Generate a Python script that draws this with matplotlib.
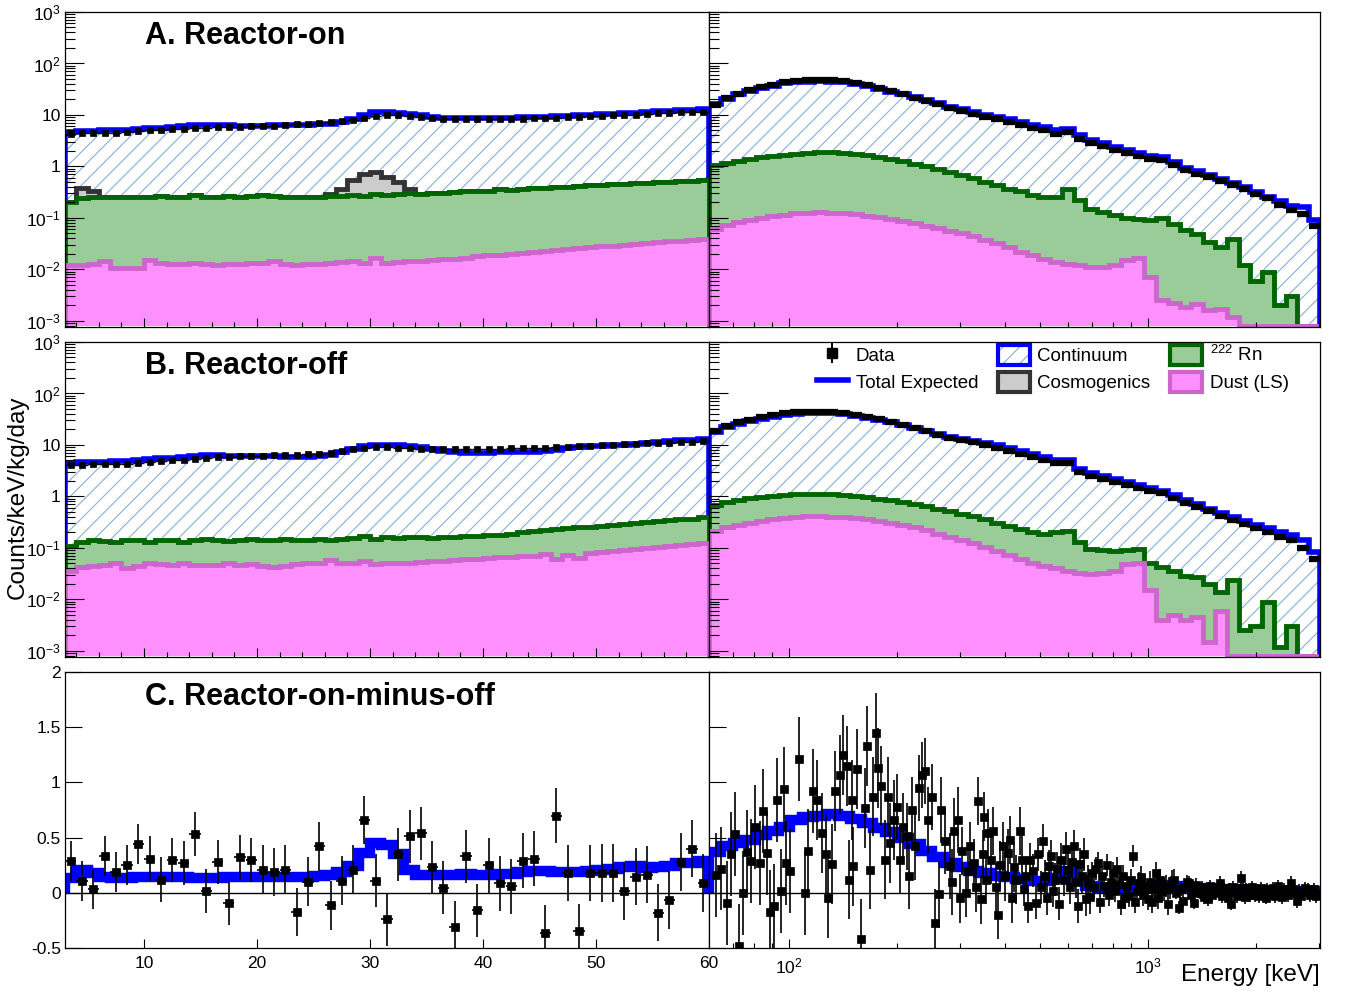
import numpy as np
import matplotlib
matplotlib.use("Agg")
import matplotlib.pyplot as plt
from matplotlib.lines import Line2D
from matplotlib.patches import Patch
from matplotlib.legend_handler import HandlerTuple
from matplotlib.ticker import FixedLocator, FuncFormatter, NullFormatter, LogLocator

plt.rcParams.update({
    "font.family": ["Liberation Sans", "DejaVu Sans"],
    "mathtext.fontset": "custom",
    "mathtext.rm": "Liberation Sans",
    "mathtext.it": "Liberation Sans:italic",
    "mathtext.bf": "Liberation Sans:bold",
    "hatch.linewidth": 0.8,
    "axes.linewidth": 0.9,
})

# ---------------------------------------------------------------- binning
LOW_EDGES = np.arange(3, 61)          # 1 keV bins, 3-60 keV
HIGH_EDGES = np.array([60, 65, 70, 75, 81, 87, 94, 101, 109, 118, 127, 137, 148, 160,
                       172, 186, 200, 216, 233, 251, 271, 292, 315, 340, 367, 396, 427,
                       460, 496, 535, 577, 622, 671, 724, 781, 842, 908, 979, 1056, 1139,
                       1228, 1324, 1428, 1540, 1661, 1791, 1931, 2083, 2246, 2422, 2612,
                       2817, 3020])

# ---------------------------------------------------------------- reactor-on, 3-60 keV
total_on_lo = [4.7, 4.8, 4.9, 5.0, 5.0, 5.1, 5.3, 5.5, 5.6, 5.8,
               6.2, 6.4, 6.5, 6.4, 6.3, 6.2, 6.2, 6.2, 6.3, 6.3,
               6.4, 6.5, 6.6, 6.8, 7.4, 8.4, 10.0, 11.2, 11.3, 11.0,
               10.6, 10.0, 9.2, 8.7, 8.6, 8.6, 8.7, 8.8, 8.8, 8.9,
               9.0, 9.2, 9.3, 9.5, 9.6, 9.8, 10.0, 10.3, 10.5, 10.8,
               11.0, 11.4, 11.7, 12.0, 12.3, 12.6, 12.8]
data_on_lo = [4.3, 4.4, 4.4, 4.5, 4.5, 4.6, 4.8, 5.0, 5.1, 5.3,
              5.4, 5.6, 5.7, 5.8, 5.8, 5.9, 6.0, 6.1, 6.2, 6.4,
              6.6, 6.8, 7.1, 7.4, 7.6, 8.0, 8.8, 9.6, 9.9, 9.8,
              9.4, 9.0, 8.6, 8.3, 8.2, 8.2, 8.2, 8.3, 8.3, 8.4,
              8.5, 8.6, 8.7, 8.9, 9.0, 9.2, 9.4, 9.6, 9.8, 10.0,
              10.2, 10.5, 10.8, 11.0, 11.2, 11.4, 11.5]
cosmo_on_lo = [0, 0.14, 0.08, 0, 0, 0, 0, 0, 0, 0,
               0, 0, 0, 0, 0, 0, 0, 0, 0, 0,
               0, 0, 0, 0.02, 0.09, 0.27, 0.45, 0.49, 0.33, 0.20,
               0.07, 0, 0, 0, 0, 0, 0, 0, 0, 0,
               0, 0, 0, 0, 0, 0, 0, 0, 0, 0,
               0, 0, 0, 0, 0, 0, 0]
rn_on_lo = [0.188, 0.228, 0.238, 0.246, 0.24, 0.25, 0.25, 0.235, 0.257, 0.247,
            0.248, 0.267, 0.238, 0.248, 0.258, 0.247, 0.257, 0.267, 0.256, 0.247,
            0.248, 0.238, 0.247, 0.257, 0.256, 0.266, 0.257, 0.274, 0.267, 0.276,
            0.286, 0.276, 0.285, 0.294, 0.304, 0.313, 0.312, 0.321, 0.341, 0.33,
            0.349, 0.358, 0.357, 0.376, 0.375, 0.384, 0.403, 0.412, 0.421, 0.43,
            0.439, 0.448, 0.466, 0.465, 0.474, 0.493, 0.511]
dust_on_lo = [0.012, 0.012, 0.0125, 0.0145, 0.0105, 0.0105, 0.0105, 0.0155, 0.0135, 0.013,
              0.0125, 0.0135, 0.0125, 0.012, 0.0125, 0.013, 0.0135, 0.0135, 0.0145, 0.013,
              0.012, 0.0125, 0.013, 0.0135, 0.014, 0.0145, 0.0135, 0.0165, 0.0135, 0.014,
              0.0145, 0.0145, 0.0155, 0.016, 0.016, 0.017, 0.018, 0.019, 0.019, 0.02,
              0.021, 0.022, 0.023, 0.024, 0.025, 0.026, 0.027, 0.028, 0.029, 0.03,
              0.031, 0.032, 0.034, 0.035, 0.036, 0.037, 0.039]

# ---------------------------------------------------------------- reactor-on, 60-3000 keV
total_on_hi = [16, 20, 25, 29, 33, 37, 41, 43, 44.5, 45,
               44.5, 43, 40, 36, 32, 28.5, 25, 22, 19.5, 17,
               14.5, 12.8, 11.3, 10.2, 9.2, 8.2, 7.3, 6.5, 5.8, 5.0,
               5.4, 4.0, 3.3, 2.8, 2.4, 2.1, 1.8, 1.6, 1.5, 1.2,
               0.95, 0.8, 0.68, 0.57, 0.48, 0.39, 0.32, 0.26, 0.21, 0.17,
               0.16, 0.09]
data_on_hi = [15.5, 21, 26, 30.5, 35, 39, 43, 46, 47, 47.5,
              47, 45, 42, 37.5, 33, 29, 25, 21.5, 18.7, 16,
              13.6, 11.8, 10.3, 9.2, 8.2, 7.2, 6.4, 5.7, 5.0, 4.3,
              4.7, 3.4, 2.9, 2.5, 2.1, 1.85, 1.6, 1.4, 1.35, 1.08,
              0.86, 0.72, 0.62, 0.52, 0.44, 0.36, 0.29, 0.24, 0.18, 0.14,
              0.12, 0.07]
rn_on_hi = [0.99, 1.08, 1.17, 1.29, 1.40, 1.49, 1.58, 1.66, 1.72, 1.75,
            1.74, 1.71, 1.63, 1.54, 1.42, 1.31, 1.18, 1.05, 0.93, 0.82,
            0.71, 0.62, 0.54, 0.46, 0.40, 0.34, 0.31, 0.26, 0.234, 0.246,
            0.347, 0.208, 0.139, 0.119, 0.103, 0.085, 0.077, 0.083, 0.0975, 0.073,
            0.056, 0.046, 0.032, 0.026, 0.037, 0.012, 0.006, 0.009, 0.002, 0.003,
            0, 0]
dust_on_hi = [0.062, 0.072, 0.082, 0.092, 0.10, 0.108, 0.115, 0.122, 0.126, 0.128,
              0.127, 0.124, 0.118, 0.11, 0.102, 0.095, 0.087, 0.079, 0.071, 0.063,
              0.056, 0.05, 0.044, 0.038, 0.032, 0.027, 0.022, 0.019, 0.016, 0.014,
              0.013, 0.012, 0.011, 0.011, 0.012, 0.015, 0.017, 0.007, 0.0025, 0.0022,
              0.0019, 0.0021, 0.0016, 0.0017, 0.0012, 0, 0, 0, 0, 0,
              0, 0]

# ---------------------------------------------------------------- reactor-off, 3-60 keV
total_off_lo = [4.5, 4.6, 4.6, 4.7, 4.8, 4.9, 5.1, 5.3, 5.5, 5.7,
                5.9, 6.1, 6.3, 6.3, 6.2, 6.2, 6.1, 6.0, 6.0, 5.9,
                5.9, 5.9, 6.0, 6.5, 7.2, 8.3, 9.6, 10.2, 10.2, 10.0,
                9.6, 9.0, 8.2, 7.5, 7.2, 7.1, 7.1, 7.1, 7.2, 7.2,
                7.3, 7.4, 7.6, 8.0, 8.6, 9.2, 9.5, 9.7, 9.9, 10.1,
                10.4, 10.8, 11.4, 12.0, 12.3, 12.5, 12.8]
data_off_lo = [4.1, 4.1, 4.2, 4.2, 4.3, 4.3, 4.4, 4.6, 4.8, 5.0,
               5.2, 5.4, 5.6, 5.8, 5.9, 6.0, 6.1, 6.2, 6.3, 6.4,
               6.5, 6.6, 6.8, 7.1, 7.6, 8.2, 8.7, 9.0, 9.0, 8.9,
               8.7, 8.5, 8.4, 8.3, 8.3, 8.3, 8.4, 8.4, 8.5, 8.6,
               8.7, 8.8, 8.9, 9.1, 9.3, 9.5, 9.7, 9.9, 10.1, 10.3,
               10.5, 10.7, 10.9, 11.1, 11.3, 11.5, 11.7]
rn_off_lo = [0.073, 0.088, 0.095, 0.088, 0.078, 0.10, 0.10, 0.08, 0.092, 0.099,
             0.08, 0.094, 0.104, 0.093, 0.085, 0.098, 0.101, 0.095, 0.103, 0.105,
             0.097, 0.09, 0.098, 0.087, 0.098, 0.105, 0.115, 0.102, 0.11, 0.103,
             0.11, 0.107, 0.10, 0.105, 0.107, 0.11, 0.108, 0.116, 0.114, 0.122,
             0.129, 0.14, 0.145, 0.168, 0.168, 0.185, 0.182, 0.187, 0.192, 0.198,
             0.205, 0.22, 0.225, 0.24, 0.245, 0.25, 0.275]
dust_off_lo = [0.035, 0.042, 0.045, 0.047, 0.052, 0.040, 0.045, 0.050, 0.048, 0.046,
               0.050, 0.046, 0.046, 0.047, 0.050, 0.047, 0.049, 0.045, 0.042, 0.045,
               0.048, 0.050, 0.052, 0.058, 0.052, 0.050, 0.055, 0.048, 0.050, 0.052,
               0.050, 0.053, 0.055, 0.055, 0.058, 0.060, 0.062, 0.064, 0.066, 0.068,
               0.071, 0.070, 0.075, 0.062, 0.072, 0.065, 0.078, 0.083, 0.088, 0.092,
               0.095, 0.10, 0.105, 0.11, 0.115, 0.12, 0.125]

# ---------------------------------------------------------------- reactor-off, 60-3000 keV
total_off_hi = [18, 22, 26, 29.5, 32.5, 35.5, 38, 40, 41, 41.5,
                41, 39.5, 37, 34, 31, 27.5, 24.5, 21.5, 19, 16.5,
                14.5, 13.2, 12.2, 11, 9.8, 8.7, 7.6, 6.6, 5.8, 5.2,
                5.0, 3.4, 2.9, 2.5, 2.2, 1.9, 1.65, 1.45, 1.3, 1.05,
                0.85, 0.7, 0.58, 0.48, 0.40, 0.34, 0.28, 0.24, 0.2, 0.18,
                0.14, 0.085]
data_off_hi = [19, 23, 27.5, 31, 34.5, 38, 41, 43, 44, 44.5,
               44, 42, 39, 35.5, 32, 28, 24.5, 21, 18.3, 15.8,
               13.7, 12.3, 11.2, 10, 8.9, 7.8, 6.8, 5.9, 5.1, 4.5,
               4.4, 3.0, 2.55, 2.2, 1.9, 1.65, 1.45, 1.27, 1.15, 0.92,
               0.75, 0.62, 0.51, 0.42, 0.35, 0.29, 0.24, 0.2, 0.16, 0.14,
               0.1, 0.06]
rn_off_hi = [0.47, 0.53, 0.58, 0.62, 0.65, 0.68, 0.70, 0.70, 0.70, 0.70,
             0.695, 0.675, 0.64, 0.60, 0.565, 0.53, 0.50, 0.46, 0.42, 0.38,
             0.345, 0.315, 0.285, 0.255, 0.222, 0.197, 0.168, 0.148, 0.145, 0.16,
             0.175, 0.098, 0.064, 0.058, 0.052, 0.044, 0.045, 0.035, 0.038, 0.03,
             0.024, 0.0225, 0.0185, 0.008, 0.024, 0.0025, 0.003, 0.0088, 0.0012, 0.003,
             0, 0]
dust_off_hi = [0.21, 0.25, 0.28, 0.31, 0.34, 0.36, 0.38, 0.40, 0.41, 0.41,
               0.405, 0.395, 0.38, 0.36, 0.335, 0.31, 0.28, 0.25, 0.22, 0.19,
               0.165, 0.145, 0.125, 0.105, 0.088, 0.073, 0.062, 0.052, 0.045, 0.04,
               0.035, 0.032, 0.031, 0.032, 0.036, 0.048, 0.05, 0.015, 0.004, 0.005,
               0.004, 0.0045, 0.0015, 0.006, 0, 0, 0, 0, 0, 0,
               0, 0]

# ---------------------------------------------------------------- on-minus-off residual
diff_lo = [0.29, 0.11, 0.03, 0.33, 0.19, 0.25, 0.44, 0.31, 0.12, 0.30,
           0.27, 0.53, 0.015, 0.28, -0.09, 0.32, 0.30, 0.21, 0.19, 0.21,
           -0.175, 0.10, 0.42, -0.115, 0.11, 0.21, 0.66, 0.11, -0.24, 0.35,
           0.51, 0.54, 0.23, 0.045, -0.31, 0.33, -0.16, 0.25, 0.085, 0.06,
           0.29, 0.31, -0.36, 0.70, 0.18, -0.35, 0.18, 0.18, 0.18, 0.015,
           0.145, 0.165, -0.18, -0.065, 0.28, 0.40, 0.09]
diff_lo_err = ([0.18] * 7 + [0.20] * 10 + [0.22] * 10 + [0.24] * 10
               + [0.25] * 10 + [0.26] * 10)
expect_diff_lo = [0.13, 0.21, 0.18, 0.14, 0.13, 0.13, 0.14, 0.14, 0.14, 0.14,
                  0.14, 0.135, 0.135, 0.135, 0.14, 0.145, 0.145, 0.145, 0.145, 0.145,
                  0.145, 0.145, 0.15, 0.165, 0.19, 0.24, 0.36, 0.45, 0.43, 0.35,
                  0.21, 0.165, 0.16, 0.16, 0.165, 0.17, 0.165, 0.165, 0.17, 0.17,
                  0.19, 0.195, 0.2, 0.185, 0.185, 0.19, 0.2, 0.21, 0.22, 0.235,
                  0.24, 0.225, 0.23, 0.24, 0.27, 0.27, 0.29]
expect_diff_hi = [0.37, 0.42, 0.45, 0.48, 0.52, 0.56, 0.60, 0.66, 0.69, 0.70,
                  0.71, 0.70, 0.67, 0.63, 0.59, 0.55, 0.50, 0.44, 0.38, 0.32,
                  0.27, 0.23, 0.20, 0.175, 0.155, 0.14, 0.125, 0.11, 0.105, 0.13,
                  0.20, 0.12, 0.06, 0.045, 0.035, 0.03, 0.03, 0.045, 0.075, 0.065,
                  0.05, 0.045, 0.04, 0.035, 0.03, 0.03, 0.025, 0.02, 0.02, 0.02,
                  0.015, 0.015]
diff_hi_energy = [62.8, 64.6, 67.2, 69.0, 70.8, 72.6, 74.5, 76.6, 78.7, 80.8,
                  83, 85, 87, 88.6, 91, 93, 95, 97, 98.6, 100.8,
                  107, 111, 113, 117, 120, 124, 127, 129, 132, 135,
                  139, 142, 145, 147.5, 150, 151.5, 155, 159, 163, 165,
                  168, 172, 175, 177, 181, 185, 189, 192, 196, 200,
                  204, 208, 213, 217, 221, 225, 230, 235, 239, 245,
                  250, 256, 262, 266, 273, 281, 285, 288, 296, 300,
                  304, 312, 316, 319, 328, 332, 336, 343, 347, 350,
                  355, 360, 366, 372, 377, 382, 389, 396, 401, 407,
                  413, 418, 424, 430, 441, 447, 453, 459, 465, 470,
                  478, 490, 496, 503, 510, 517, 524, 531, 538, 545,
                  553, 560, 568, 575, 583, 592, 600, 608, 616, 624,
                  632, 640, 647, 655, 664, 673, 682, 691, 700, 710,
                  719, 728, 738, 748, 758, 768, 779, 790, 800, 812,
                  822, 833, 843, 855, 866, 877, 888, 900, 910, 922,
                  934, 946, 958, 970, 983, 1000, 1013, 1027, 1041, 1055,
                  1069, 1083, 1097, 1110, 1125, 1140, 1155, 1170, 1185, 1200,
                  1220, 1236, 1252, 1268, 1284, 1300, 1317, 1333, 1350, 1367,
                  1384, 1400, 1418, 1436, 1454, 1470, 1490, 1508, 1527, 1545,
                  1565, 1590, 1610, 1630, 1650, 1670, 1690, 1710, 1732, 1754,
                  1776, 1798, 1815, 1838, 1861, 1884, 1907, 1930, 1953, 1970,
                  1996, 2020, 2046, 2071, 2097, 2130, 2155, 2180, 2210, 2240,
                  2270, 2310, 2340, 2370, 2400, 2430, 2460, 2510, 2540, 2570,
                  2610, 2640, 2680, 2720, 2750, 2790, 2830, 2870, 2910, 2950,
                  2990]
diff_hi = [0.16, 0.22, -0.09, 0.35, 0.53, -0.48, 0.0, 0.37, 0.29, 0.60,
           0.27, 0.74, 0.36, -0.17, -0.12, 0.84, 0.02, 0.94, 0.27, 0.20,
           1.21, 0.0, 0.38, 0.92, 0.84, 0.54, 0.35, -0.05, 0.26, 0.92,
           1.07, 1.25, 1.15, 0.12, 0.84, 0.24, 1.12, -0.42, 0.77, 1.33,
           0.21, 0.87, 1.45, 1.13, 0.97, 0.30, 0.87, 0.45, 0.66, 0.78,
           0.30, 0.60, 0.51, 0.15, 0.75, 0.42, 0.95, 1.07, 1.10, 0.66,
           0.87, -0.27, -0.015, 0.75, 0.47, 0.24, 0.10, 0.56, 0.66, -0.05,
           0.38, 0.0, 0.20, 0.42, 0.27, 0.05, 0.83, -0.06, 0.35, 0.69,
           0.12, 0.54, 0.30, 0.56, 0.05, -0.20, 0.25, 0.42, 0.15, 0.36,
           0.48, -0.05, 0.23, 0.12, 0.56, 0.30, 0.03, 0.15, -0.12, 0.30,
           0.20, -0.09, 0.35, 0.05, 0.47, 0.15, -0.05, 0.24, 0.33, 0.02,
           0.12, 0.22, -0.10, 0.30, 0.12, 0.40, 0.21, 0.05, 0.28, 0.42,
           0.10, -0.12, 0.26, 0.15, 0.35, -0.06, 0.10, -0.04, 0.18, 0.05,
           0.22, 0.27, -0.08, 0.15, 0.06, 0.25, -0.02, 0.10, 0.18, 0.02,
           0.22, 0.08, -0.10, 0.15, -0.05, 0.06, -0.03, 0.12, 0.33, -0.08,
           0.02, 0.09, 0.14, -0.02, 0.06, -0.06, 0.10, -0.08, 0.04, 0.18,
           -0.05, 0.12, 0.02, 0.03, 0.06, -0.10, 0.04, 0.105, 0.12, 0.00,
           -0.135, 0.03, -0.07, 0.05, 0.10, 0.09, -0.02, 0.04, -0.09, 0.07,
           0.01, 0.0, 0.05, -0.04, 0.02, -0.06, 0.06, -0.02, 0.03, 0.00,
           0.05, 0.09, -0.03, 0.04, 0.01, -0.05, 0.03, -0.10, 0.05, 0.01,
           -0.03, 0.02, 0.135, 0.04, -0.04, 0.03, 0.01, -0.02, 0.05, 0.03,
           -0.02, 0.02, -0.03, 0.04, 0.00, -0.045, 0.03, -0.02, 0.01, 0.04,
           -0.03, 0.06, 0.02, -0.04, 0.03, 0.01, -0.02, 0.09, 0.03, 0.00,
           -0.075, 0.02, -0.03, 0.01, 0.04, 0.03, -0.02, 0.01, 0.03, -0.03,
           0.0]
# statistical error of the residual, per energy band
err_band_edges = [60, 120, 200, 300, 450, 700, 1200, 3100]
err_band_values = [0.38, 0.36, 0.30, 0.22, 0.15, 0.10, 0.06]

# ---------------------------------------------------------------- style
BLUE = "#0000ff"
HATCH_C = "#86b0da"
GRAY_F, GRAY_L = "#cccccc", "#333333"
GREEN_F, GREEN_L = "#99cc99", "#006400"
PINK_F, PINK_L = "#ff8fff", "#cc66cc"
FLOOR = 7.8e-4
YMIN, YMAX = 7.6e-4, 1e3

W, H = 1349, 994
fig = plt.figure(figsize=(W / 100, H / 100), dpi=100)


def add_ax(x0, x1, y0, y1):
    return fig.add_axes([x0 / W, 1 - y1 / H, (x1 - x0) / W, (y1 - y0) / H])


axA_lo, axA_hi = add_ax(65, 709, 12, 327), add_ax(709, 1320, 12, 327)
axB_lo, axB_hi = add_ax(65, 709, 342, 657), add_ax(709, 1320, 342, 657)
axC_lo, axC_hi = add_ax(65, 709, 672, 948), add_ax(709, 1320, 672, 948)


def bin_geometry(edges, log):
    edges = np.asarray(edges, float)
    lo, hi = edges[:-1], edges[1:]
    c = np.sqrt(lo * hi) if log else 0.5 * (lo + hi)
    return c, lo, hi


def draw_stack(ax, edges, total, cosmo, rn, dust, data, log, ms, elw):
    total, cosmo, rn, dust = (np.asarray(a, float) for a in (total, cosmo, rn, dust))
    lv_dust = dust
    lv_rn = dust + rn
    lv_cos = lv_rn + cosmo
    clip = lambda a: np.maximum(a, FLOOR)
    # continuum: hatched, outlined by the stack total
    ax.stairs(clip(total), edges, baseline=FLOOR, fill=True, facecolor="none",
              edgecolor=HATCH_C, hatch="//", linewidth=0)
    ax.stairs(clip(total), edges, baseline=FLOOR, color=BLUE, linewidth=4)
    if np.any(cosmo > 0):
        ax.stairs(clip(lv_cos), edges, baseline=FLOOR, fill=True, color=GRAY_F, linewidth=0)
        ax.stairs(clip(lv_cos), edges, baseline=FLOOR, color=GRAY_L, linewidth=3.5)
    ax.stairs(clip(lv_rn), edges, baseline=FLOOR, fill=True, color=GREEN_F, linewidth=0)
    ax.stairs(clip(lv_rn), edges, baseline=FLOOR, color=GREEN_L, linewidth=3.5)
    ax.stairs(clip(lv_dust), edges, baseline=FLOOR, fill=True, color=PINK_F, linewidth=0)
    ax.stairs(clip(lv_dust), edges, baseline=FLOOR, color=PINK_L, linewidth=3.5)
    c, lo, hi = bin_geometry(edges, log)
    ax.errorbar(c, data, xerr=[c - lo, hi - c], fmt="s", color="k", ms=ms,
                mew=0.5, elinewidth=elw, capsize=0)


def log_label(v, pos):
    e = int(round(np.log10(v)))
    if e == 0:
        return "1"
    if e == 1:
        return "10"
    return r"$10^{%d}$" % e


def style_axes(ax, low, logy, xlabels, ylabels, xminor=True):
    ax.tick_params(axis="both", which="both", direction="in", top=False, right=False,
                   labelsize=12.5, width=0.8)
    if low:
        ax.set_xlim(3, 60)
        ax.xaxis.set_major_locator(FixedLocator([10, 20, 30, 40, 50, 60]))
        ax.xaxis.set_minor_locator(FixedLocator(np.arange(4, 60, 2) if xminor else []))
    else:
        ax.set_xscale("log")
        ax.set_xlim(60, 3020)
        ax.xaxis.set_major_locator(FixedLocator([100, 1000]))
        ax.xaxis.set_minor_locator(FixedLocator([70, 80, 90, 200, 300, 400, 500, 600,
                                                 700, 800, 900, 2000, 3000]))
    if xlabels:
        if low:
            ax.xaxis.set_major_formatter(FuncFormatter(lambda v, p: "%d" % v))
        else:
            ax.xaxis.set_major_formatter(FuncFormatter(log_label))
    else:
        ax.xaxis.set_major_formatter(NullFormatter())
    ax.xaxis.set_minor_formatter(NullFormatter())
    ax.tick_params(axis="x", which="major", length=6.5, pad=6)
    ax.tick_params(axis="x", which="minor", length=3.5)
    if logy:
        ax.set_yscale("log")
        ax.set_ylim(YMIN, YMAX)
        ax.yaxis.set_major_locator(FixedLocator([1e-3, 1e-2, 1e-1, 1, 10, 100, 1000]))
        ax.yaxis.set_minor_locator(LogLocator(base=10, subs=np.arange(2, 10), numticks=30))
        ax.yaxis.set_minor_formatter(NullFormatter())
        ax.yaxis.set_major_formatter(FuncFormatter(log_label) if ylabels else NullFormatter())
        ax.tick_params(axis="y", which="major", length=14, pad=3)
        ax.tick_params(axis="y", which="minor", length=7)
    else:
        ax.set_ylim(-0.5, 2.0)
        ticks = [-0.5, 0, 0.5, 1, 1.5, 2]
        ax.yaxis.set_major_locator(FixedLocator(ticks))
        ax.yaxis.set_minor_locator(FixedLocator([]))
        if ylabels:
            ax.yaxis.set_major_formatter(FuncFormatter(lambda v, p: "%g" % v))
        else:
            ax.yaxis.set_major_formatter(NullFormatter())
        ax.tick_params(axis="y", which="major", length=12.5, pad=3)


# ---------------------------------------------------------------- A: reactor-on
draw_stack(axA_lo, LOW_EDGES, total_on_lo, cosmo_on_lo, rn_on_lo, dust_on_lo,
           data_on_lo, False, 4, 1.0)
draw_stack(axA_hi, HIGH_EDGES, total_on_hi, np.zeros(len(total_on_hi)), rn_on_hi,
           dust_on_hi, data_on_hi, True, 3.5, 4.5)
# ---------------------------------------------------------------- B: reactor-off
draw_stack(axB_lo, LOW_EDGES, total_off_lo, np.zeros(len(total_off_lo)), rn_off_lo,
           dust_off_lo, data_off_lo, False, 4, 1.0)
draw_stack(axB_hi, HIGH_EDGES, total_off_hi, np.zeros(len(total_off_hi)), rn_off_hi,
           dust_off_hi, data_off_hi, True, 3.5, 4.5)

for ax, low in ((axA_lo, True), (axA_hi, False), (axB_lo, True), (axB_hi, False)):
    style_axes(ax, low, True, False, low)

# ---------------------------------------------------------------- C: on-minus-off
for ax in (axC_lo, axC_hi):
    ax.axhline(0, color="k", lw=1.0, zorder=1.5)
axC_lo.stairs(expect_diff_lo, LOW_EDGES, baseline=0, color=BLUE, linewidth=7.5)
axC_hi.stairs(expect_diff_hi, HIGH_EDGES, baseline=0, color=BLUE, linewidth=7.5)

c_lo, _, _ = bin_geometry(LOW_EDGES, False)
axC_lo.errorbar(c_lo, diff_lo, yerr=diff_lo_err, xerr=0.5, fmt="s", color="k", ms=5.5,
                mew=0.5, elinewidth=1.2, capsize=0)
e_hi = np.asarray(diff_hi_energy, float)
band = np.clip(np.searchsorted(err_band_edges, e_hi, side="right") - 1, 0,
               len(err_band_values) - 1)
axC_hi.errorbar(e_hi, diff_hi, yerr=np.asarray(err_band_values)[band], fmt="s",
                color="k", ms=5.5, mew=0.5, elinewidth=1.2, capsize=0)

style_axes(axC_lo, True, False, True, True, xminor=False)
style_axes(axC_hi, False, False, True, False)

# ---------------------------------------------------------------- panel titles
for ax, txt, yb in ((axA_lo, "A. Reactor-on", 0.898), (axB_lo, "B. Reactor-off", 0.898),
                    (axC_lo, "C. Reactor-on-minus-off", 0.880)):
    ax.text(0.124, yb, txt, transform=ax.transAxes, fontsize=22, fontweight="bold",
            ha="left", va="baseline")

fig.text(18 / W, 1 - 497 / H, "Counts/keV/kg/day", rotation=90, ha="center",
         va="center", fontsize=17.5)
fig.text(1320 / W, 1 - 981 / H, "Energy [keV]", ha="right", va="baseline", fontsize=17.5)

# ---------------------------------------------------------------- legend
h_data = (Line2D([], [], color="k", marker="|", ms=15, mew=1.4, ls="none"),
          Line2D([], [], color="k", marker="s", ms=6.5, ls="none"))
h_total = Line2D([], [], color=BLUE, lw=4)
h_cont = (Patch(facecolor="white", edgecolor=HATCH_C, hatch="//", lw=0),
          Patch(facecolor="none", edgecolor=BLUE, lw=3))
h_cosmo = Patch(facecolor=GRAY_F, edgecolor=GRAY_L, lw=3)
h_rn = Patch(facecolor=GREEN_F, edgecolor=GREEN_L, lw=3)
h_dust = Patch(facecolor=PINK_F, edgecolor=PINK_L, lw=3)
axB_hi.legend([h_data, h_total, h_cont, h_cosmo, h_rn, h_dust],
              ["Data", "Total Expected", "Continuum", "Cosmogenics",
               r"${}^{222}$ Rn", "Dust (LS)"],
              handler_map={tuple: HandlerTuple(ndivide=1)}, ncol=3, frameon=False,
              fontsize=13.5, loc="upper left", bbox_to_anchor=(0.176, 0.99),
              borderaxespad=0, borderpad=0, handlelength=1.7, handleheight=1.25,
              handletextpad=0.4, columnspacing=1.05, labelspacing=0.35)

fig.savefig("out.png", dpi=100, facecolor="white")
